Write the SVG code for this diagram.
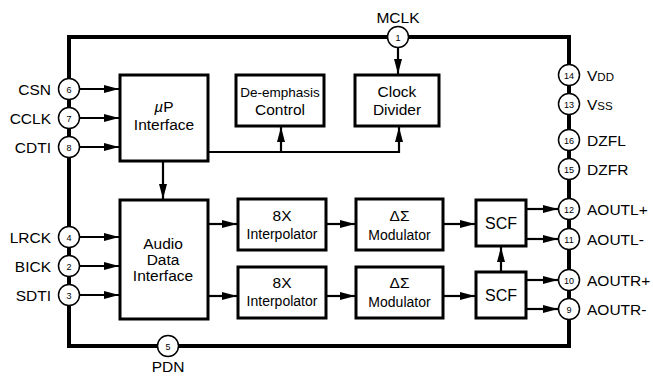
<svg xmlns="http://www.w3.org/2000/svg" width="653" height="376" viewBox="0 0 653 376">
<style>
  text { font-family: "Liberation Sans", Arial, sans-serif; fill: #000; }
  .lbl { font-size: 15.5px; }
  .lblL { font-size: 15.5px; text-anchor: end; }
  .box { fill: #fff; stroke: #000; stroke-width: 3; }
  .bt { font-size: 15.5px; text-anchor: middle; }
  .pin { fill: #fff; stroke: #000; stroke-width: 1.5; }
  .pn { font-size: 9px; text-anchor: middle; }
  .wire { fill: none; stroke: #000; stroke-width: 2.2; }
  .border { fill: none; stroke: #000; stroke-width: 4; }
</style>
<defs>
  <marker id="arr" markerUnits="userSpaceOnUse" viewBox="0 0 15 8" refX="15" refY="4" markerWidth="15" markerHeight="8" orient="auto">
    <path d="M0,0 L15,4 L0,8 z" fill="#000"/>
  </marker>
</defs>

<rect class="border" x="69" y="37" width="500" height="309"/>

<g id="connectors">
  <line class="wire" x1="80" y1="89" x2="119" y2="89" marker-end="url(#arr)"/>
  <line class="wire" x1="80" y1="118" x2="119" y2="118" marker-end="url(#arr)"/>
  <line class="wire" x1="80" y1="147" x2="119" y2="147" marker-end="url(#arr)"/>
  <line class="wire" x1="398" y1="47" x2="398" y2="74" marker-end="url(#arr)"/>
  <path class="wire" d="M208,152 H399 V127" marker-end="url(#arr)"/>
  <line class="wire" x1="281" y1="152" x2="281" y2="127" marker-end="url(#arr)"/>
  <line class="wire" x1="163" y1="161" x2="163" y2="199" marker-end="url(#arr)"/>
  <line class="wire" x1="80" y1="237" x2="119" y2="237" marker-end="url(#arr)"/>
  <line class="wire" x1="80" y1="266" x2="119" y2="266" marker-end="url(#arr)"/>
  <line class="wire" x1="80" y1="295" x2="119" y2="295" marker-end="url(#arr)"/>
  <line class="wire" x1="208" y1="224" x2="237" y2="224" marker-end="url(#arr)"/>
  <line class="wire" x1="208" y1="296" x2="237" y2="296" marker-end="url(#arr)"/>
  <line class="wire" x1="326" y1="224" x2="355" y2="224" marker-end="url(#arr)"/>
  <line class="wire" x1="326" y1="296" x2="355" y2="296" marker-end="url(#arr)"/>
  <line class="wire" x1="443" y1="224" x2="475" y2="224" marker-end="url(#arr)"/>
  <line class="wire" x1="443" y1="296" x2="475" y2="296" marker-end="url(#arr)"/>
  <line class="wire" x1="501" y1="272" x2="501" y2="247" marker-end="url(#arr)"/>
  <line class="wire" x1="526" y1="209" x2="558" y2="209" marker-end="url(#arr)"/>
  <line class="wire" x1="526" y1="239" x2="558" y2="239" marker-end="url(#arr)"/>
  <line class="wire" x1="526" y1="280" x2="558" y2="280" marker-end="url(#arr)"/>
  <line class="wire" x1="526" y1="309" x2="558" y2="309" marker-end="url(#arr)"/>
</g>

<g id="up-interface">
  <rect class="box" x="120" y="75" width="88" height="86"/>
  <text class="bt" x="164" y="112"><tspan font-style="italic">µ</tspan>P</text>
  <text class="bt" x="164" y="130">Interface</text>
</g>
<g id="de-emphasis">
  <rect class="box" x="236" y="75" width="88" height="51"/>
  <text class="bt" x="280" y="97" style="font-size:13.5px">De-emphasis</text>
  <text class="bt" x="280" y="115">Control</text>
</g>
<g id="clock-divider">
  <rect class="box" x="355" y="75" width="84" height="51"/>
  <text class="bt" x="397" y="97">Clock</text>
  <text class="bt" x="397" y="115">Divider</text>
</g>
<g id="audio-data-interface">
  <rect class="box" x="120" y="200" width="88" height="119"/>
  <text class="bt" x="163" y="249">Audio</text>
  <text class="bt" x="163" y="265">Data</text>
  <text class="bt" x="163" y="280.5">Interface</text>
</g>
<g id="interp1">
  <rect class="box" x="238" y="199" width="88" height="51"/>
  <text class="bt" x="282" y="221">8X</text>
  <text class="bt" x="282" y="239" style="font-size:14px">Interpolator</text>
</g>
<g id="interp2">
  <rect class="box" x="238" y="267" width="88" height="51"/>
  <text class="bt" x="282" y="288">8X</text>
  <text class="bt" x="282" y="306" style="font-size:14px">Interpolator</text>
</g>
<g id="mod1">
  <rect class="box" x="356" y="199" width="87" height="51"/>
  <text class="bt" x="399.5" y="221">ΔΣ</text>
  <text class="bt" x="399.5" y="240" style="font-size:14px">Modulator</text>
</g>
<g id="mod2">
  <rect class="box" x="356" y="267" width="87" height="51"/>
  <text class="bt" x="399.5" y="288">ΔΣ</text>
  <text class="bt" x="399.5" y="307" style="font-size:14px">Modulator</text>
</g>
<g id="scf1">
  <rect class="box" x="476" y="200" width="50" height="46"/>
  <text class="bt" x="501" y="229" style="font-size:16px">SCF</text>
</g>
<g id="scf2">
  <rect class="box" x="476" y="272" width="50" height="46"/>
  <text class="bt" x="501" y="301" style="font-size:16px">SCF</text>
</g>

<g id="pin-mclk">
  <circle class="pin" cx="398" cy="37" r="10.5"/>
  <text class="pn" x="398" y="40.5">1</text>
  <text class="bt" x="398" y="23">MCLK</text>
</g>
<g id="pin-pdn">
  <circle class="pin" cx="168" cy="346" r="10.5"/>
  <text class="pn" x="168" y="349.5">5</text>
  <text class="bt" x="168" y="372">PDN</text>
</g>
<g id="pin-csn">
  <circle class="pin" cx="69" cy="89" r="10.5"/>
  <text class="pn" x="69" y="92.5">6</text>
  <text class="lblL" x="51" y="94.5">CSN</text>
</g>
<g id="pin-cclk">
  <circle class="pin" cx="69" cy="118" r="10.5"/>
  <text class="pn" x="69" y="121.5">7</text>
  <text class="lblL" x="51" y="123.5">CCLK</text>
</g>
<g id="pin-cdti">
  <circle class="pin" cx="69" cy="147" r="10.5"/>
  <text class="pn" x="69" y="150.5">8</text>
  <text class="lblL" x="51" y="152.5">CDTI</text>
</g>
<g id="pin-lrck">
  <circle class="pin" cx="69" cy="237" r="10.5"/>
  <text class="pn" x="69" y="240.5">4</text>
  <text class="lblL" x="51" y="242.5">LRCK</text>
</g>
<g id="pin-bick">
  <circle class="pin" cx="69" cy="266" r="10.5"/>
  <text class="pn" x="69" y="269.5">2</text>
  <text class="lblL" x="51" y="271.5">BICK</text>
</g>
<g id="pin-sdti">
  <circle class="pin" cx="69" cy="295" r="10.5"/>
  <text class="pn" x="69" y="298.5">3</text>
  <text class="lblL" x="51" y="300.5">SDTI</text>
</g>
<g id="pin-vdd">
  <circle class="pin" cx="569" cy="75" r="10.5"/>
  <text class="pn" x="569" y="78.5">14</text>
  <text class="lbl" x="587" y="81">V<tspan style="font-size:11.5px">DD</tspan></text>
</g>
<g id="pin-vss">
  <circle class="pin" cx="569" cy="104" r="10.5"/>
  <text class="pn" x="569" y="107.5">13</text>
  <text class="lbl" x="587" y="110">V<tspan style="font-size:11.5px">SS</tspan></text>
</g>
<g id="pin-dzfl">
  <circle class="pin" cx="569" cy="140" r="10.5"/>
  <text class="pn" x="569" y="143.5">16</text>
  <text class="lbl" x="587" y="145.5">DZFL</text>
</g>
<g id="pin-dzfr">
  <circle class="pin" cx="569" cy="169" r="10.5"/>
  <text class="pn" x="569" y="172.5">15</text>
  <text class="lbl" x="587" y="174.5">DZFR</text>
</g>
<g id="pin-aoutlp">
  <circle class="pin" cx="569" cy="209" r="10.5"/>
  <text class="pn" x="569" y="212.5">12</text>
  <text class="lbl" x="587" y="214.5">AOUTL+</text>
</g>
<g id="pin-aoutlm">
  <circle class="pin" cx="569" cy="239" r="10.5"/>
  <text class="pn" x="569" y="242.5">11</text>
  <text class="lbl" x="587" y="244.5">AOUTL-</text>
</g>
<g id="pin-aoutrp">
  <circle class="pin" cx="569" cy="280" r="10.5"/>
  <text class="pn" x="569" y="283.5">10</text>
  <text class="lbl" x="587" y="285.5">AOUTR+</text>
</g>
<g id="pin-aoutrm">
  <circle class="pin" cx="569" cy="309" r="10.5"/>
  <text class="pn" x="569" y="312.5">9</text>
  <text class="lbl" x="587" y="314.5">AOUTR-</text>
</g>
</svg>
